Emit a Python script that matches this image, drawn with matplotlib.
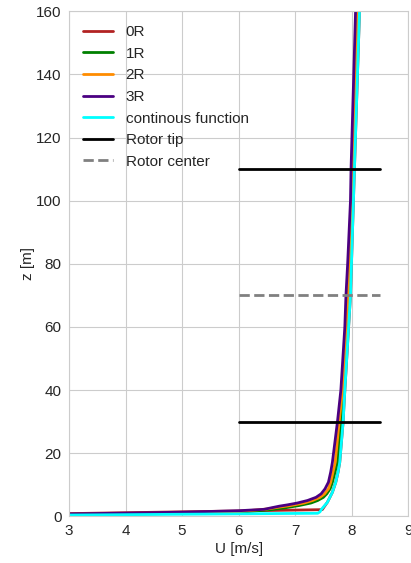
import matplotlib
matplotlib.use("Agg")
import matplotlib.pyplot as plt
import seaborn as sns

sns.set_style("whitegrid")
plt.rcParams['font.family'] = ['Liberation Sans', 'DejaVu Sans']

# wind speed profiles U(z) at several positions, read as (U [m/s], z [m]) pairs
u_0R = [0.0, 7.48, 7.57, 7.66, 7.72, 7.76, 7.79, 7.85, 7.87, 7.98, 8.05, 8.14]
z_0R = [0.0, 2.1, 4.4, 7.6, 10.8, 14, 17.1, 30, 36.8, 70, 110, 160]

u_1R = [0.0, 3.0, 4.0, 5.0, 6.0, 6.57, 6.83, 7.07, 7.28, 7.40, 7.50, 7.56, 7.62, 7.66, 7.75, 7.81,
        7.87, 7.96, 8.03, 8.12]
z_1R = [0.0, 0.5, 0.7, 0.9, 1.25, 2.1, 2.7, 3.4, 4.2, 5.0, 6.0, 7.1, 8.7, 10.8, 17.1, 30,
        40, 70, 110, 160]

u_2R = [0.0, 3.0, 4.0, 5.0, 6.0, 6.50, 6.72, 6.92, 7.16, 7.31, 7.44, 7.52, 7.59, 7.63, 7.71, 7.78,
        7.84, 7.94, 8.02, 8.11]
z_2R = [0.0, 0.6, 0.85, 1.1, 1.5, 2.3, 2.9, 3.4, 4.2, 5.0, 6.0, 7.1, 8.7, 10.8, 17.1, 30,
        40, 70, 110, 160]

u_3R = [0.0, 3.0, 4.0, 5.0, 6.0, 6.45, 6.72, 6.86, 7.04, 7.22, 7.37, 7.46, 7.53, 7.59, 7.63, 7.66,
        7.75, 7.81, 7.88, 7.90, 7.93, 7.98, 7.99, 8.07]
z_3R = [0.0, 0.75, 1.0, 1.3, 1.75, 2.2, 3.2, 3.6, 4.2, 5.0, 6.0, 7.1, 8.7, 10.8, 14, 17.1,
        30, 40, 60, 70, 80, 100, 110, 160]

u_cont = [0.0, 7.40, 7.44, 7.47, 7.57, 7.66, 7.72, 7.76, 7.79, 7.85, 7.87, 7.98, 8.05, 8.14]
z_cont = [0.0, 0.95, 1.4, 2.3, 4.4, 7.6, 10.8, 14, 17.1, 30, 36.8, 70, 110, 160]

# rotor geometry
rotor_tip = [30, 110]
rotor_center = 70
rotor_u = [6.0, 8.5]

fig = plt.figure(figsize=(4.11, 5.63), dpi=100)
ax = fig.add_axes([0.168, 0.083, 0.825, 0.897])

ax.plot(u_0R, z_0R, color='firebrick', lw=2, label='0R')
ax.plot(u_1R, z_1R, color='green', lw=2, label='1R')
ax.plot(u_2R, z_2R, color='darkorange', lw=2, label='2R')
ax.plot(u_3R, z_3R, color='indigo', lw=2, label='3R')
ax.plot(u_cont, z_cont, color='cyan', lw=2, label='continous function')
for i, zt in enumerate(rotor_tip):
    ax.plot(rotor_u, [zt, zt], color='black', lw=2,
            label='Rotor tip' if i == 0 else None)
ax.plot(rotor_u, [rotor_center, rotor_center], color='grey', lw=2,
        ls='--', label='Rotor center')

ax.set_xlim(3, 9)
ax.set_ylim(0, 160)
ax.set_xlabel('U [m/s]', fontsize=11, labelpad=3)
ax.set_ylabel('z [m]', fontsize=11, labelpad=1)
ax.tick_params(labelsize=11, pad=2)
ax.legend(loc='upper left', fontsize=11, frameon=False)

fig.savefig('out.png', dpi=100)
